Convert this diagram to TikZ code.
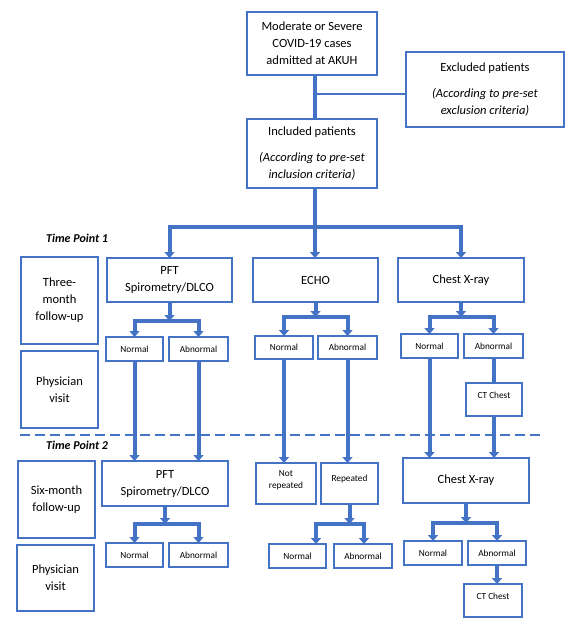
\documentclass[tikz,border=0pt]{standalone}
\usepackage{fontspec}
\setmainfont{Carlito}
\usetikzlibrary{arrows.meta}
\definecolor{bl}{HTML}{4472C4}
\pgfdeclarelayer{bg}
\pgfsetlayers{bg,main}
\begin{document}
\begin{tikzpicture}[x=1pt,y=-1pt,
 box/.style={draw=bl,line width=2.3pt,fill=white,align=center,inner sep=0pt,outer sep=0pt,font=\fontsize{12.5}{17}\selectfont},
 sbox/.style={box,font=\fontsize{9.3}{12}\selectfont},
 conn/.style={draw=bl,line width=4pt,line cap=rect},
 thinconn/.style={draw=bl,line width=2pt},
 arr/.style={conn,-{Triangle[width=10pt,length=6pt]}},
 tp/.style={anchor=west,inner sep=0pt,font=\fontsize{12}{14}\selectfont\bfseries\itshape},
 dashline/.style={draw=bl,line width=2.5pt,dash pattern=on 10pt off 5pt}
]
\useasboundingbox (0,0) rectangle (573,624);

% top part
\node[box,minimum width=130pt,minimum height=63pt] (top) at (312,43.5) {Moderate or Severe\\COVID-19 cases\\admitted at AKUH};
\node[box,minimum width=158pt,minimum height=75pt] (excl) at (485,89.5) {Excluded patients\\[9pt]\textit{(According to pre-set}\\\textit{exclusion criteria)}};
\node[box,minimum width=130pt,minimum height=69pt] (incl) at (312,153.5) {Included patients\\[9pt]\textit{(According to pre-set}\\\textit{inclusion criteria)}};

% time point 1
\node[tp] (tp1) at (46,238) {Time Point 1};
\node[box,minimum width=77pt,minimum height=87pt] (tm) at (59.5,300.5) {Three-\\month\\follow-up};
\node[box,minimum width=77pt,minimum height=77pt] (pv1) at (59.5,389.5) {Physician\\visit};
\node[box,minimum width=125pt,minimum height=44pt] (pft1) at (169.5,280) {PFT\\Spirometry/DLCO};
\node[box,minimum width=125pt,minimum height=44pt] (echo1) at (315.5,280) {ECHO};
\node[box,minimum width=126pt,minimum height=44pt] (cxr1) at (461,280) {Chest X-ray};
\node[sbox,minimum width=57pt,minimum height=24pt] (pn1) at (134.5,349) {Normal};
\node[sbox,minimum width=59pt,minimum height=24pt] (pa1) at (198.5,349) {Abnormal};
\node[sbox,minimum width=58pt,minimum height=23pt] (en1) at (284,347.5) {Normal};
\node[sbox,minimum width=59pt,minimum height=23pt] (ea1) at (347.5,347.5) {Abnormal};
\node[sbox,minimum width=57pt,minimum height=24pt] (cn1) at (429.5,346) {Normal};
\node[sbox,minimum width=59pt,minimum height=24pt] (ca1) at (493.5,346) {Abnormal};
\node[sbox,minimum width=56pt,minimum height=33pt,text height=7pt,text depth=9pt] (ct1) at (494,399.5) {CT Chest};

% time point 2
\node[tp] (tp2) at (46,445) {Time Point 2};
\node[box,minimum width=77pt,minimum height=77pt] (sm) at (56.5,499.5) {Six-month\\follow-up};
\node[box,minimum width=77pt,minimum height=66pt] (pv2) at (55.5,578) {Physician\\visit};
\node[box,minimum width=126pt,minimum height=45pt] (pft2) at (165,483.5) {PFT\\Spirometry/DLCO};
\node[sbox,minimum width=60pt,minimum height=41pt,text depth=7pt] (nr) at (286,483.5) {Not\\repeated};
\node[sbox,minimum width=57pt,minimum height=41pt,text height=7pt,text depth=11pt] (rp) at (349.5,483.5) {Repeated};
\node[box,minimum width=126pt,minimum height=45pt] (cxr2) at (466,480.5) {Chest X-ray};
\node[sbox,minimum width=57pt,minimum height=24pt] (pn2) at (134.5,555) {Normal};
\node[sbox,minimum width=59pt,minimum height=24pt] (pa2) at (198.5,555) {Abnormal};
\node[sbox,minimum width=57pt,minimum height=24pt] (rn) at (297.5,556) {Normal};
\node[sbox,minimum width=58pt,minimum height=24pt] (ra) at (363,556) {Abnormal};
\node[sbox,minimum width=58pt,minimum height=24pt] (cn2) at (433,553) {Normal};
\node[sbox,minimum width=58pt,minimum height=24pt] (ca2) at (497,553) {Abnormal};
\node[sbox,minimum width=58pt,minimum height=33pt,text height=7pt,text depth=9pt] (ct2) at (493,600.5) {CT Chest};

% bar coordinates
\coordinate (j1) at (315,94);
\coordinate (b0) at (315,227);
\coordinate (pL) at (134.5,321); \coordinate (pR) at (198.5,321);
\coordinate (eL) at (284,317);   \coordinate (eR) at (347.5,317);
\coordinate (cL) at (429.5,317); \coordinate (cR) at (493.5,317);
\coordinate (qL) at (134.5,524); \coordinate (qR) at (198.5,524);
\coordinate (rL) at (316,524);   \coordinate (rR) at (364,524);
\coordinate (sL) at (433,523);   \coordinate (sR) at (497,523);
\coordinate (d1) at (20,435);    \coordinate (d2) at (543,435);

\begin{pgfonlayer}{bg}
\fill[white] (0,0) rectangle (573,624);
\draw[dashline] (d1) -- (d2);
% top trunk
\draw[conn] (top.south -| b0) -- (incl.north -| b0);
\draw[thinconn] (j1) -- (excl.west |- j1);
\draw[conn] (incl.south -| b0) -- (b0);
\draw[conn] (pft1.north |- b0) -- (cxr1.north |- b0);
\draw[arr] (pft1.north |- b0) -- (pft1.north);
\draw[arr] (b0) -- (echo1.north -| b0);
\draw[arr] (cxr1.north |- b0) -- (cxr1.north);
% TP1 branches
\draw[arr] (pft1.south) -- (pft1.south |- pL);
\draw[conn] (pL) -- (pR);
\draw[arr] (pL) -- (pn1.north);
\draw[arr] (pR) -- (pa1.north);
\draw[arr] (echo1.south) -- (echo1.south |- eL);
\draw[conn] (eL) -- (eR);
\draw[arr] (eL) -- (en1.north);
\draw[arr] (eR) -- (ea1.north);
\draw[arr] (cxr1.south) -- (cxr1.south |- cL);
\draw[conn] (cL) -- (cR);
\draw[arr] (cL) -- (cn1.north);
\draw[arr] (cR) -- (ca1.north);
\draw[conn] (ca1.south) -- (ct1.north -| ca1.south);
% TP1 -> TP2
\draw[arr] (pn1.south) -- (pn1.south |- pft2.north);
\draw[arr] (pa1.south) -- (pa1.south |- pft2.north);
\draw[arr] (en1.south) -- (en1.south |- nr.north);
\draw[arr] (ea1.south) -- (ea1.south |- rp.north);
\draw[arr] (cn1.south) -- (cn1.south |- cxr2.north);
\draw[arr] (ct1.south) -- (ct1.south |- cxr2.north);
% TP2 branches
\draw[arr] (pft2.south) -- (pft2.south |- qL);
\draw[conn] (qL) -- (qR);
\draw[arr] (qL) -- (pn2.north);
\draw[arr] (qR) -- (pa2.north);
\draw[arr] (rp.south) -- (rp.south |- rL);
\draw[conn] (rL) -- (rR);
\draw[arr] (rL) -- (rL |- rn.north);
\draw[arr] (rR) -- (rR |- ra.north);
\draw[arr] (cxr2.south) -- (cxr2.south |- sL);
\draw[conn] (sL) -- (sR);
\draw[arr] (sL) -- (cn2.north);
\draw[arr] (sR) -- (ca2.north);
\draw[arr] (ca2.south) -- (ct2.north -| ca2.south);
\end{pgfonlayer}
\end{tikzpicture}
\end{document}
